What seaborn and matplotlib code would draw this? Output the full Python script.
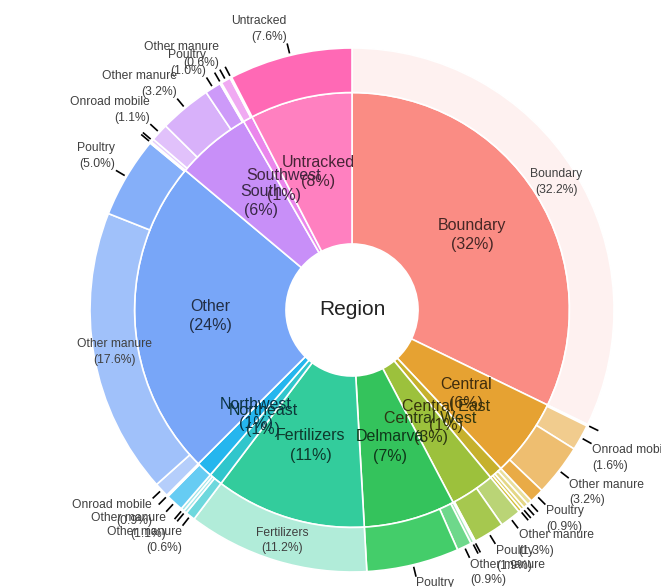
import colorsys
import numpy as np
import pandas as pd
import seaborn as sns
import matplotlib.pyplot as plt
from matplotlib.colors import to_rgb

# inner ring: regions, clockwise from 12 o'clock
regions = ["Boundary", "Central", "Central East", "Central West", "Delmarva", "Fertilizers",
           "Northeast", "Northwest", "Other", "South", "Southwest", "Untracked"]

region_colors = ["#fa8c84", "#e6a232", "#c6b12c", "#9cc13c", "#34c35c", "#33cc9c",
                 "#30c6cc", "#25b6ee", "#78a6f8", "#c88ff8", "#ea86ec", "#ff80c0"]

# outer ring: sources inside each region (share of total, %)
source_region = ["Boundary",
                 "Central", "Central", "Central", "Central",
                 "Central East", "Central East", "Central East", "Central East",
                 "Central West", "Central West", "Central West",
                 "Delmarva", "Delmarva", "Delmarva",
                 "Fertilizers",
                 "Northeast", "Northeast", "Northeast",
                 "Northwest", "Northwest",
                 "Other", "Other", "Other", "Other",
                 "South", "South", "South", "South", "South",
                 "Southwest", "Southwest",
                 "Untracked"]
source_name = ["Boundary",
               "Livestock", "Onroad mobile", "Other manure", "Poultry",
               "Livestock", "Onroad mobile", "Other manure", "Poultry",
               "Other manure", "Poultry", "Septic",
               "Livestock", "Other manure", "Poultry",
               "Fertilizers",
               "Other manure", "Septic", "Wastewater",
               "Other manure", "Septic",
               "Onroad mobile", "Other manure", "Poultry", "Septic",
               "Livestock", "Onroad mobile", "Other manure", "Poultry", "Septic",
               "Other manure", "Septic",
               "Untracked"]
source_share = [32.2,
                0.1, 1.6, 3.2, 0.9,
                0.3, 0.3, 0.2, 0.2,
                1.3, 1.9, 0.1,
                0.2, 0.9, 5.7,
                11.2,
                0.6, 0.2, 0.2,
                1.1, 0.1,
                0.9, 17.6, 5.0, 0.1,
                0.2, 1.1, 3.2, 1.0, 0.1,
                0.6, 0.1,
                7.6]

# how much each source colour is washed towards white (negative = deeper)
lighten = {"Boundary": 0.88, "Fertilizers": 0.62, "Untracked": -0.06, "Poultry": 0.1,
           "Other manure": 0.3, "Onroad mobile": 0.45, "Livestock": 0.55,
           "Septic": 0.55, "Wastewater": 0.55}


def shade(color, f):
    h, l, s = colorsys.rgb_to_hls(*to_rgb(color))
    l = l + (1 - l) * f if f >= 0 else l * (1 + f)
    return colorsys.hls_to_rgb(h, l, s)


df = pd.DataFrame({"region": source_region, "source": source_name, "share": source_share})
totals = df.groupby("region", sort=False)["share"].sum().reindex(regions)
color_of = dict(zip(regions, region_colors))
outer_colors = [shade(color_of[r], lighten[s]) for r, s in zip(df["region"], df["source"])]

sns.set_theme(style="white")
plt.rcParams["font.family"] = ["Liberation Sans", "DejaVu Sans"]

fig = plt.figure(figsize=(6.61, 5.87), dpi=100)
ax = fig.add_axes([0.0569, -0.0637, 0.9513, 1.0712])

R_OUT, R_MID, R_HOLE = 1.0, 0.83, 0.252
edge = dict(edgecolor="white", linewidth=1.2)

inner, _ = ax.pie(totals.values, radius=R_MID, startangle=90, counterclock=False,
                  colors=region_colors, wedgeprops=dict(width=R_MID - R_HOLE, **edge))
outer, _ = ax.pie(df["share"], radius=R_OUT, startangle=90, counterclock=False,
                  colors=outer_colors, wedgeprops=dict(width=R_OUT - R_MID, **edge))

# region labels in the middle of the inner ring
for w, name, val, col in zip(inner, regions, totals.values, region_colors):
    a = np.deg2rad((w.theta1 + w.theta2) / 2)
    r = (R_MID + R_HOLE) / 2
    dark = tuple(np.array(to_rgb(col)) * 0.28)
    ax.text(r * np.cos(a), r * np.sin(a), f"{name}\n({val:.0f}%)", ha="center", va="center",
            fontsize=11.5, color=dark, linespacing=1.35)

# source labels: big ones inside, the rest outside with a short leader
for w, name, val in zip(outer, df["source"], df["share"]):
    a = np.deg2rad((w.theta1 + w.theta2) / 2)
    cx, cy = np.cos(a), np.sin(a)
    txt = f"{name}\n({val:.1f}%)"
    if val >= 10:
        r = (R_OUT + R_MID) / 2 + 0.005
        ax.text(r * cx, r * cy, txt, ha="center", va="center", fontsize=8.7,
                color="#404040", linespacing=1.4)
        continue
    ax.plot([1.008 * cx, 1.047 * cx], [1.008 * cy, 1.047 * cy], color="black", lw=1.2,
            solid_capstyle="butt")
    if val >= 0.5:
        ax.text(1.05 * cx, 1.05 * cy, txt, ha="left" if cx > 0 else "right",
                va="bottom" if cy > 0 else "top", fontsize=8.7, color="#404040",
                linespacing=1.4)

ax.text(0, 0, "Region", ha="center", va="center", fontsize=15, color="#222222")

ax.set_xlim(-1.2, 1.2)
ax.set_ylim(-1.2, 1.2)
ax.set_aspect("equal")
ax.axis("off")

fig.savefig("out.png", dpi=100)
